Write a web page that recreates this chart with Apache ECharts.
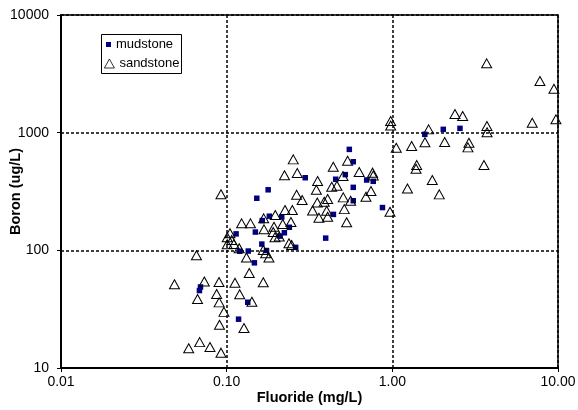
<!DOCTYPE html>
<html>
<head>
<meta charset="utf-8">
<script src="https://cdn.jsdelivr.net/npm/echarts@6/dist/echarts.min.js"></script>
<style>
html,body{margin:0;padding:0;background:#fff;}
#chart{width:578px;height:410px;}
</style>
</head>
<body>
<div id="chart"></div>
<script>
// Fluoride (mg/L) and Boron (ug/L) values
var mudstoneFluoride = [0.0695,0.0685,0.134,0.118,0.114,0.120,0.135,0.147,0.163,0.174,0.149,0.152,0.178,0.164,0.181,0.215,0.239,0.223,0.210,0.261,0.298,0.441,0.455,0.52,0.55,0.581,0.581,0.581,0.70,0.767,0.396,0.872,1.57,2.03,2.56];
var mudstoneBoron    = [48.8,45.5,36.2,26.0,138,98.3,98.6,78.3,113,99.6,143,277,327,179,195,192,157,141,132,106,414,202,402,440,721,566,343,264,396,386,127,231,968,1067,1088];

var sandstoneFluoride = [0.0484,0.0657,0.0733,0.0667,0.0899,0.1122,0.1663,0.087,0.0901,0.1198,0.142,0.0963,0.0905,0.1272,0.059,0.0687,0.0793,0.0924,0.1369,0.18,0.1317,0.1957,0.1008,0.1047,0.1072,0.1008,0.1107,0.119,0.1663,0.172,0.2377,0.0924,0.2234,0.2523,0.2667,0.2643,0.2855,0.354,0.3478,0.3523,0.33,0.1231,0.1392,0.1673,0.1965,0.225,0.249,0.2443,0.218,0.193,0.168,0.191,0.2077,0.2466,0.3605,0.407,0.4015,0.407,0.388,0.4306,0.463,0.44,0.5057,0.56,0.5128,0.53,0.537,0.631,0.760,0.767,0.743,0.693,0.5035,0.968,0.977,0.977,1.056,1.234,1.308,1.574,1.656,2.07,2.388,2.658,2.90,2.86,3.724,3.73,1.403,1.39,3.573,1.742,1.92,3.71,6.99,7.78,9.45,9.72];
var sandstoneBoron    = [51.5,90.7,54.3,38.6,53.8,53.0,53.5,42.5,36.1,42.3,36.6,30.0,23.3,21.9,14.7,16.6,15.1,13.5,64.1,86.9,86.9,129,129,139.5,122.3,112.5,113,104,100.6,94.3,114.7,300,434,593,454,297,268,388,327,255,218,169.6,169.6,187,199.5,220,220,174,167.3,158.6,150.8,143,131,111,189,193,217,273,259,347,354,513,282,264,224,173,577,463,457,432,319,285,428,213,1256,1150,745,335,770,828,1067,832,1439,1385,821,750,1138,1007,531,494,531,396,299,3883,1214,2747,2362,1298];

var xTicks = [0.01, 0.1, 1, 10];
var yTicks = [10, 100, 1000, 10000];

function pairs(xs, ys){ return xs.map(function(x,i){ return [x, ys[i]]; }); }

var FONT = '"Liberation Sans", Arial, sans-serif';
var chart = echarts.init(document.getElementById('chart'), null, {renderer:'canvas'});

var dotted = {color:'#000', width:1.5, type:[3,2]};

chart.setOption({
  animation:false,
  backgroundColor:'#fff',
  grid:{left:61, right:20, top:15, bottom:42, show:true, borderColor:'#000', borderWidth:1.5,
        containLabel:false, outerBoundsMode:'none'},
  graphic:[{type:'rect', left:101, top:34, shape:{width:80, height:39}, style:{fill:'#fff', stroke:'#000', lineWidth:1}, z:5}],
  legend:[
    {data:[{name:'mudstone'}], left:106, top:38, itemWidth:5, itemHeight:5, orient:'vertical', padding:0, z:10,
     textStyle:{fontFamily:FONT, fontSize:13, color:'#000'}},
    {data:[{name:'sandstone'}], left:104, top:57, itemWidth:10, itemHeight:9, orient:'vertical', padding:0, z:10,
     itemStyle:{color:'rgba(0,0,0,0)', borderColor:'#000', borderWidth:0.8},
     textStyle:{fontFamily:FONT, fontSize:13, color:'#000'}}
  ],
  xAxis:{
    type:'log', logBase:10, min:xTicks[0], max:xTicks[xTicks.length-1],
    name:'Fluoride (mg/L)', nameLocation:'middle', nameGap:22, nameMoveOverlap:false,
    nameTextStyle:{fontFamily:FONT, fontSize:14.5, fontWeight:'bold', color:'#000'},
    axisLine:{show:true, onZero:false, lineStyle:{color:'#000', width:2}},
    axisTick:{show:true, length:4, lineStyle:{color:'#000', width:1}},
    axisLabel:{fontFamily:FONT, fontSize:14, color:'#000', margin:7,
      formatter:function(v){ return Number(v).toFixed(2); }},
    splitLine:{show:true, lineStyle:dotted}
  },
  yAxis:{
    type:'log', logBase:10, min:yTicks[0], max:yTicks[yTicks.length-1],
    name:'Boron (ug/L)', nameLocation:'middle', nameGap:38, nameRotate:90, nameMoveOverlap:false,
    nameTextStyle:{fontFamily:FONT, fontSize:14.5, fontWeight:'bold', color:'#000'},
    axisLine:{show:true, onZero:false, lineStyle:{color:'#000', width:2}},
    axisTick:{show:true, length:4, lineStyle:{color:'#000', width:1}},
    axisLabel:{fontFamily:FONT, fontSize:14, color:'#000', margin:12,
      formatter:function(v){ return String(Math.round(v)); }},
    splitLine:{show:true, lineStyle:dotted}
  },
  series:[
    {name:'mudstone', type:'scatter', symbol:'rect', symbolSize:5.5,
     itemStyle:{color:'#000080', opacity:1}, data:pairs(mudstoneFluoride, mudstoneBoron), z:2},
    {name:'sandstone', type:'scatter', symbol:'triangle', symbolSize:[10,9],
     itemStyle:{color:'rgba(0,0,0,0)', borderColor:'#000', borderWidth:1, opacity:1}, data:pairs(sandstoneFluoride, sandstoneBoron), z:3}
  ]
});
</script>
</body>
</html>
